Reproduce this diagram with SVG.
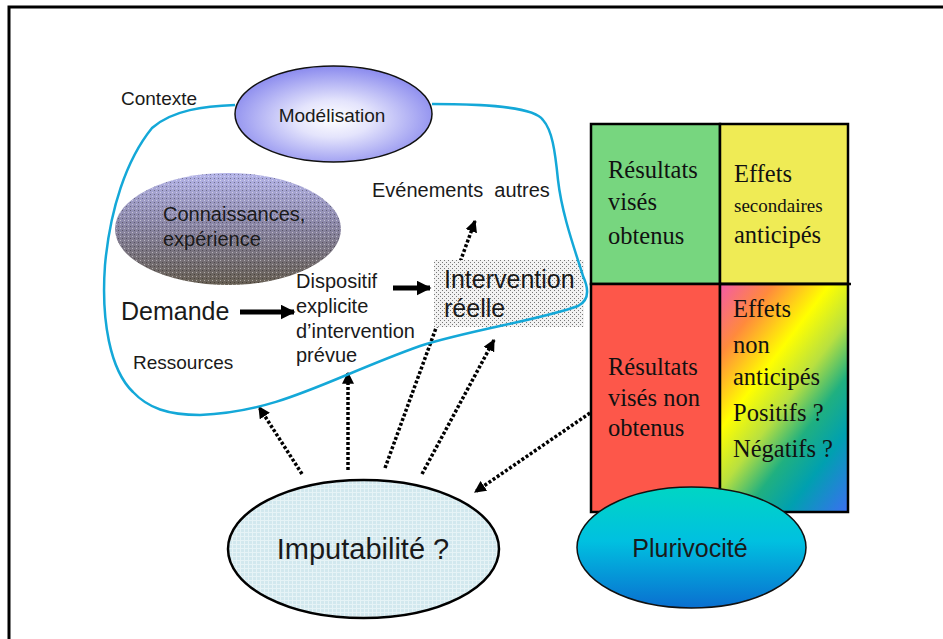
<svg xmlns="http://www.w3.org/2000/svg" width="943" height="639" viewBox="0 0 943 639">
<defs>
<style>
.sans{font-family:"Liberation Sans",Arial,sans-serif;fill:#1a1a1a}
.serif{font-family:"Liberation Serif","Times New Roman",serif;fill:#111;font-size:24.5px}
.serif.small{font-size:19px}
.dash{fill:none;stroke:#000;stroke-width:3.5;stroke-dasharray:3 2}
.thick{fill:none;stroke:#000;stroke-width:5}
.cell{stroke:#000;stroke-width:2.5}
</style>
<radialGradient id="gMod" cx="0.5" cy="0.55" r="0.55">
<stop offset="0" stop-color="#ffffff"/>
<stop offset="0.35" stop-color="#e4e4fc"/>
<stop offset="1" stop-color="#8a8aee"/>
</radialGradient>
<linearGradient id="gCon" x1="0" y1="0" x2="0" y2="1">
<stop offset="0" stop-color="#b4b4e8"/>
<stop offset="0.45" stop-color="#8c88a8"/>
<stop offset="1" stop-color="#665e52"/>
</linearGradient>
<pattern id="pDots" width="4" height="4" patternUnits="userSpaceOnUse">
<rect x="0" y="0" width="1" height="1" fill="#ffffff" fill-opacity="0.45"/>
<rect x="2" y="2" width="1" height="1" fill="#000000" fill-opacity="0.35"/>
</pattern>
<pattern id="pInt" width="4" height="4" patternUnits="userSpaceOnUse">
<rect width="4" height="4" fill="#f2f2f2"/>
<rect x="0" y="0" width="1" height="1" fill="#777"/>
<rect x="2" y="2" width="1" height="1" fill="#777"/>
</pattern>
<pattern id="pImp" width="4" height="4" patternUnits="userSpaceOnUse">
<rect width="4" height="4" fill="#d2e8ee"/>
<rect x="0" y="0" width="4" height="1" fill="#e6f3f6"/>
<rect x="0" y="0" width="1" height="4" fill="#e6f3f6"/>
</pattern>
<linearGradient id="gPlu" x1="0" y1="0" x2="0" y2="1">
<stop offset="0" stop-color="#00d6c4"/>
<stop offset="0.45" stop-color="#00c0e0"/>
<stop offset="1" stop-color="#0a6fd0"/>
</linearGradient>
<linearGradient id="gRain" gradientUnits="userSpaceOnUse" x1="720" y1="284" x2="910" y2="427">
<stop offset="0" stop-color="#f45aa8"/>
<stop offset="0.18" stop-color="#ff8a3c"/>
<stop offset="0.37" stop-color="#ffff00"/>
<stop offset="0.52" stop-color="#b8e040"/>
<stop offset="0.66" stop-color="#20b080"/>
<stop offset="0.8" stop-color="#00a0b0"/>
<stop offset="1" stop-color="#3a70f0"/>
</linearGradient>
<marker id="mHead" viewBox="0 0 10 10" refX="9" refY="5" markerWidth="12" markerHeight="12" markerUnits="userSpaceOnUse" orient="auto">
<path d="M0,0 L10,5 L0,10 z" fill="#000"/>
</marker>
<marker id="mBig" viewBox="0 0 10 10" refX="9" refY="5" markerWidth="15" markerHeight="15" markerUnits="userSpaceOnUse" orient="auto">
<path d="M0,0 L10,5 L0,10 z" fill="#000"/>
</marker>
</defs>
<rect x="0" y="0" width="943" height="639" fill="#fff"/>
<rect x="9" y="7" width="950" height="660" fill="none" stroke="#000" stroke-width="3"/>

<g id="connectors">
<line class="dash" x1="302" y1="474" x2="259" y2="407" marker-end="url(#mHead)"/>
<line class="dash" x1="348" y1="470" x2="348" y2="373" marker-end="url(#mHead)"/>
<line class="dash" x1="385" y1="468" x2="475" y2="221" marker-end="url(#mHead)"/>
<line class="dash" x1="422" y1="474" x2="494" y2="340" marker-end="url(#mHead)"/>
<line class="dash" x1="590" y1="413" x2="475" y2="492" marker-end="url(#mHead)"/>
<line class="thick" x1="240" y1="312" x2="294" y2="312" marker-end="url(#mBig)"/>
<line class="thick" x1="393" y1="288" x2="430" y2="288" marker-end="url(#mBig)"/>
</g>

<g id="connaissances">
<ellipse cx="228" cy="229" rx="113" ry="56" fill="url(#gCon)"/>
<ellipse cx="228" cy="229" rx="113" ry="56" fill="url(#pDots)"/>
<text class="sans" x="163" y="221" font-size="20">Connaissances,</text>
<text class="sans" x="163" y="246" font-size="20">expérience</text>
</g>

<g id="intervention">
<rect x="434" y="260" width="150" height="67" fill="url(#pInt)"/>
<text class="sans" x="444" y="288" font-size="25" fill="#222">Intervention</text>
<text class="sans" x="444" y="317" font-size="25" fill="#222">réelle</text>
</g>

<g id="contexte">
<path d="M235,105 C205,106 172,110 152,128 C126,160 110,210 105,265 C101,320 110,370 133,392 C148,408 168,415 200,415 C280,412 330,378 420,346 C470,330 540,320 578,306 C590,300 588,287 583,276 C575,250 562,215 558,180 C555,150 552,130 543,120 C534,106 480,104 432,104" fill="none" stroke="#14a8d8" stroke-width="2.5"/>
<text class="sans" x="121" y="105" font-size="19">Contexte</text>
</g>

<g id="modelisation">
<ellipse cx="333.5" cy="114" rx="98.5" ry="48" fill="url(#gMod)" stroke="#111" stroke-width="1.5"/>
<text class="sans" x="332" y="122" font-size="19" text-anchor="middle">Modélisation</text>
</g>

<g id="evenements">
<text class="sans" x="372" y="197" font-size="20" xml:space="preserve">Evénements  autres</text>
</g>

<g id="demande">
<text class="sans" x="121" y="320" font-size="25" fill="#111">Demande</text>
</g>

<g id="dispositif">
<text class="sans" x="296" y="288" font-size="20">Dispositif</text>
<text class="sans" x="296" y="313" font-size="20">explicite</text>
<text class="sans" x="296" y="338" font-size="20">d’intervention</text>
<text class="sans" x="296" y="362" font-size="20">prévue</text>
</g>

<g id="ressources">
<text class="sans" x="133" y="369" font-size="19">Ressources</text>
</g>

<g id="grille">
<rect class="cell" x="591" y="124" width="129" height="160" fill="#77d67f"/>
<rect class="cell" x="720" y="124" width="128" height="160" fill="#efeb55"/>
<rect class="cell" x="591" y="284" width="129" height="228" fill="#fd574a"/>
<rect class="cell" x="720" y="284" width="128" height="228" fill="url(#gRain)"/>
<line x1="720" y1="284" x2="851" y2="284" stroke="#000" stroke-width="2.5"/>
<text class="serif" x="608" y="178">Résultats</text>
<text class="serif" x="608" y="210">visés</text>
<text class="serif" x="608" y="244">obtenus</text>
<text class="serif" x="734" y="182">Effets</text>
<text class="serif small" x="734" y="212">secondaires</text>
<text class="serif" x="734" y="243">anticipés</text>
<text class="serif" x="608" y="375">Résultats</text>
<text class="serif" x="608" y="406">visés non</text>
<text class="serif" x="608" y="436">obtenus</text>
<text class="serif" x="733" y="317">Effets</text>
<text class="serif" x="733" y="353">non</text>
<text class="serif" x="733" y="385">anticipés</text>
<text class="serif" x="733" y="421">Positifs ?</text>
<text class="serif" x="733" y="457">Négatifs ?</text>
</g>

<g id="imputabilite">
<ellipse cx="363.5" cy="549" rx="135.5" ry="69" fill="url(#pImp)" stroke="#000" stroke-width="2.5"/>
<text class="sans" x="363" y="559" font-size="29" text-anchor="middle">Imputabilité ?</text>
</g>

<g id="plurivocite">
<ellipse cx="691.5" cy="547.5" rx="114.5" ry="60.5" fill="url(#gPlu)" stroke="#111" stroke-width="1.5"/>
<text class="sans" x="690" y="557" font-size="25" text-anchor="middle" fill="#111">Plurivocité</text>
</g>
</svg>
